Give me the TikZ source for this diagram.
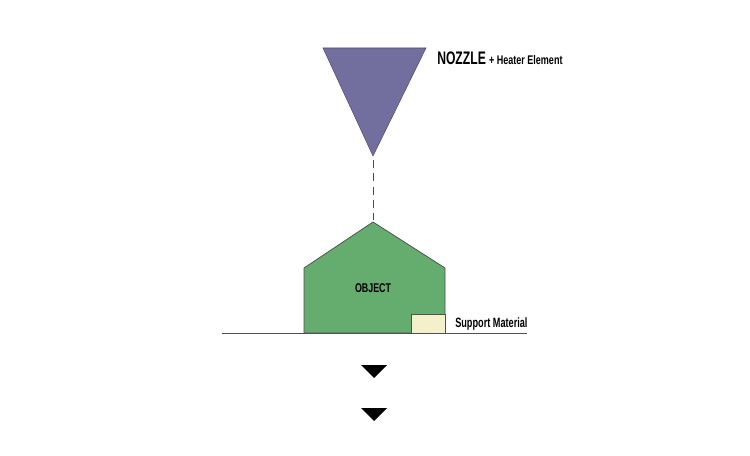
\documentclass[tikz,border=0pt]{standalone}
\usepackage{fontspec}
\setmainfont{Liberation Sans}
\newfontfamily\narrowfont[FakeStretch=0.67]{Liberation Sans}
\newfontfamily\condfont[FakeStretch=0.70]{Liberation Sans}
\newfontfamily\suppfont[FakeStretch=0.68]{Liberation Sans}
\newfontfamily\semifont[FakeStretch=0.72]{Liberation Sans}
\usetikzlibrary{arrows.meta, positioning, calc}
\definecolor{nozzlepurple}{RGB}{114,110,158}
\definecolor{objgreen}{RGB}{100,173,110}
\definecolor{supportcream}{RGB}{245,240,204}
\definecolor{edgegray}{RGB}{80,80,80}
\tikzset{
  lbl/.style={inner sep=0pt, anchor=base west},
  shapeedge/.style={draw=edgegray, line width=0.6pt, line join=miter},
  downmark/.style={fill=black},
}

\begin{document}
\begin{tikzpicture}[x=0.75pt, y=-0.75pt]
  \useasboundingbox (0,0) rectangle (750,456);

  % ── nozzle ──────────────────────────────────────────────
  \coordinate (nzTL) at (323,48);
  \coordinate (nzTR) at (426,48);
  \coordinate (nzTip) at (373,156);
  \fill[nozzlepurple, draw=nozzlepurple!70!black, line width=0.4pt]
    (nzTL) -- (nzTR) -- (nzTip) -- cycle;
  \node[lbl, font=\narrowfont\bfseries\fontsize{13.6}{13.6}\selectfont] (nozzle) at (437,65) {NOZZLE};
  \node[lbl, font=\semifont\bfseries\fontsize{9.4}{9.4}\selectfont, right=2pt of nozzle.base east, anchor=base west]
    (heater) {+ Heater Element};

  % ── object (house shape) ───────────────────────────────
  \coordinate (apex) at (373,222);
  \filldraw[objgreen, shapeedge]
    (304,333) -- (304,268) -- (apex) -- (445,268) -- (445,333) -- cycle;
  \node[font=\condfont\bfseries\fontsize{9.5}{9.5}\selectfont] (object) at (373,288) {OBJECT};

  % ── support material ───────────────────────────────────
  \filldraw[supportcream, shapeedge] (411,314) rectangle (445,333);
  \node[lbl, font=\suppfont\bfseries\fontsize{10.1}{10.1}\selectfont] (support) at (455,327) {Support Material};

  % ── build plate ────────────────────────────────────────
  \coordinate (plateL) at (222,333);
  \coordinate (plateR) at (527,333);
  \draw[edgegray, line width=0.6pt] (plateL) -- (plateR);

  % ── nozzle path ────────────────────────────────────────
  \draw[black!70, line width=0.6pt, dash pattern=on 6pt off 4pt]
    ($(nzTip)+(0,4)$) -- ($(apex)+(0,-2)$);

  % ── plate moving down ──────────────────────────────────
  \foreach \y in {365,408}
    \fill[downmark] (361,\y) -- (387,\y) -- (374,\y+13) -- cycle;
\end{tikzpicture}
\end{document}
